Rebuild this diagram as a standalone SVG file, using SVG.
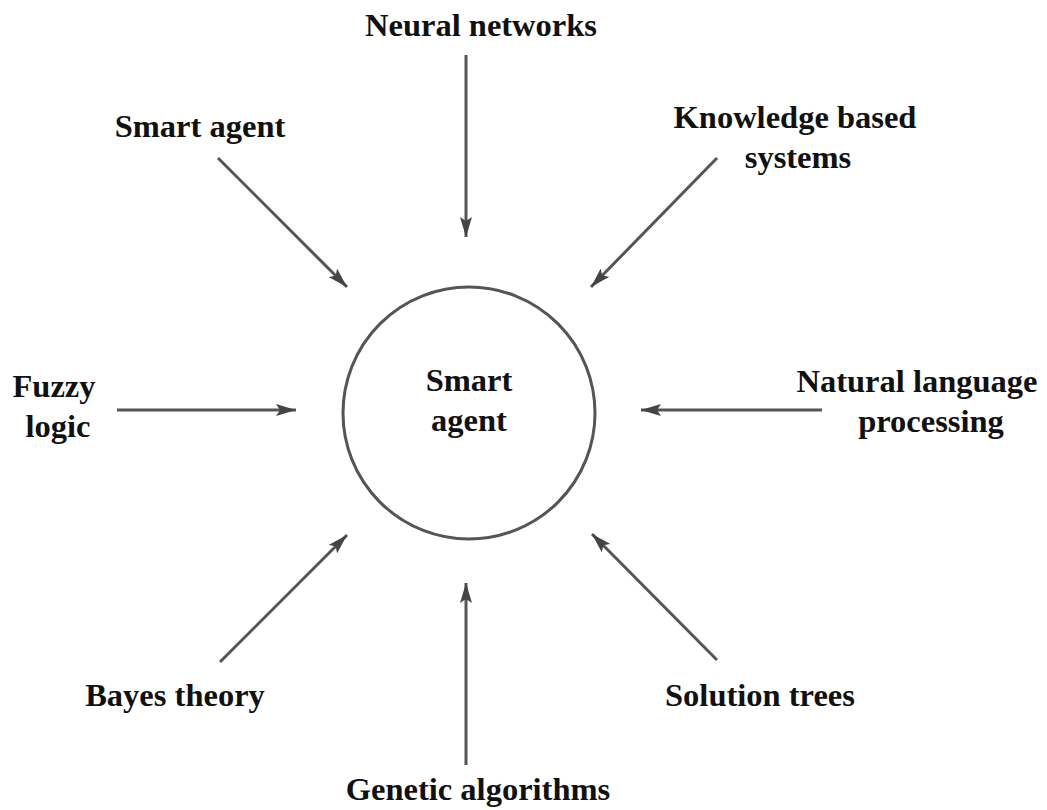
<svg xmlns="http://www.w3.org/2000/svg" width="1047" height="810" viewBox="0 0 1047 810">
<defs>
<style>
text{font-family:"Liberation Serif","Times New Roman",serif;font-weight:bold;font-size:32.5px;fill:#111;}
.c{text-anchor:middle}
.a{stroke:#555;stroke-width:3;fill:none;marker-end:url(#ah)}
</style>
<marker id="ah" viewBox="0 0 20 12" refX="20" refY="6" markerWidth="20" markerHeight="12" markerUnits="userSpaceOnUse" orient="auto">
<path d="M0,0 L20,6 L0,12 L4,6 Z" fill="#444"/>
</marker>
</defs>
<rect width="1047" height="810" fill="#fff"/>
<g id="connectors">
<line class="a" x1="466" y1="55" x2="466" y2="237"/>
<line class="a" x1="218" y1="158" x2="347" y2="287"/>
<line class="a" x1="717" y1="158" x2="591" y2="287"/>
<line class="a" x1="117" y1="410" x2="296" y2="410"/>
<line class="a" x1="822" y1="410" x2="641" y2="410"/>
<line class="a" x1="220" y1="662" x2="347" y2="535"/>
<line class="a" x1="466" y1="765" x2="466" y2="583"/>
<line class="a" x1="717" y1="660" x2="592" y2="534"/>
</g>
<g id="center">
<circle cx="469" cy="413" r="126" fill="none" stroke="#555" stroke-width="3"/>
<text class="c" x="469" y="391">Smart</text>
<text class="c" x="469" y="431">agent</text>
</g>
<g id="neural"><text class="c" x="481" y="36">Neural networks</text></g>
<g id="smartagent"><text class="c" x="200" y="137">Smart agent</text></g>
<g id="kbs"><text class="c" x="795" y="128">Knowledge based</text><text class="c" x="798" y="168">systems</text></g>
<g id="fuzzy"><text class="c" x="54" y="397">Fuzzy</text><text class="c" x="58" y="437">logic</text></g>
<g id="nlp"><text class="c" x="917" y="392">Natural language</text><text class="c" x="931" y="432">processing</text></g>
<g id="bayes"><text class="c" x="175" y="706">Bayes theory</text></g>
<g id="solution"><text class="c" x="760" y="706">Solution trees</text></g>
<g id="genetic"><text class="c" x="478" y="800">Genetic algorithms</text></g>
</svg>
